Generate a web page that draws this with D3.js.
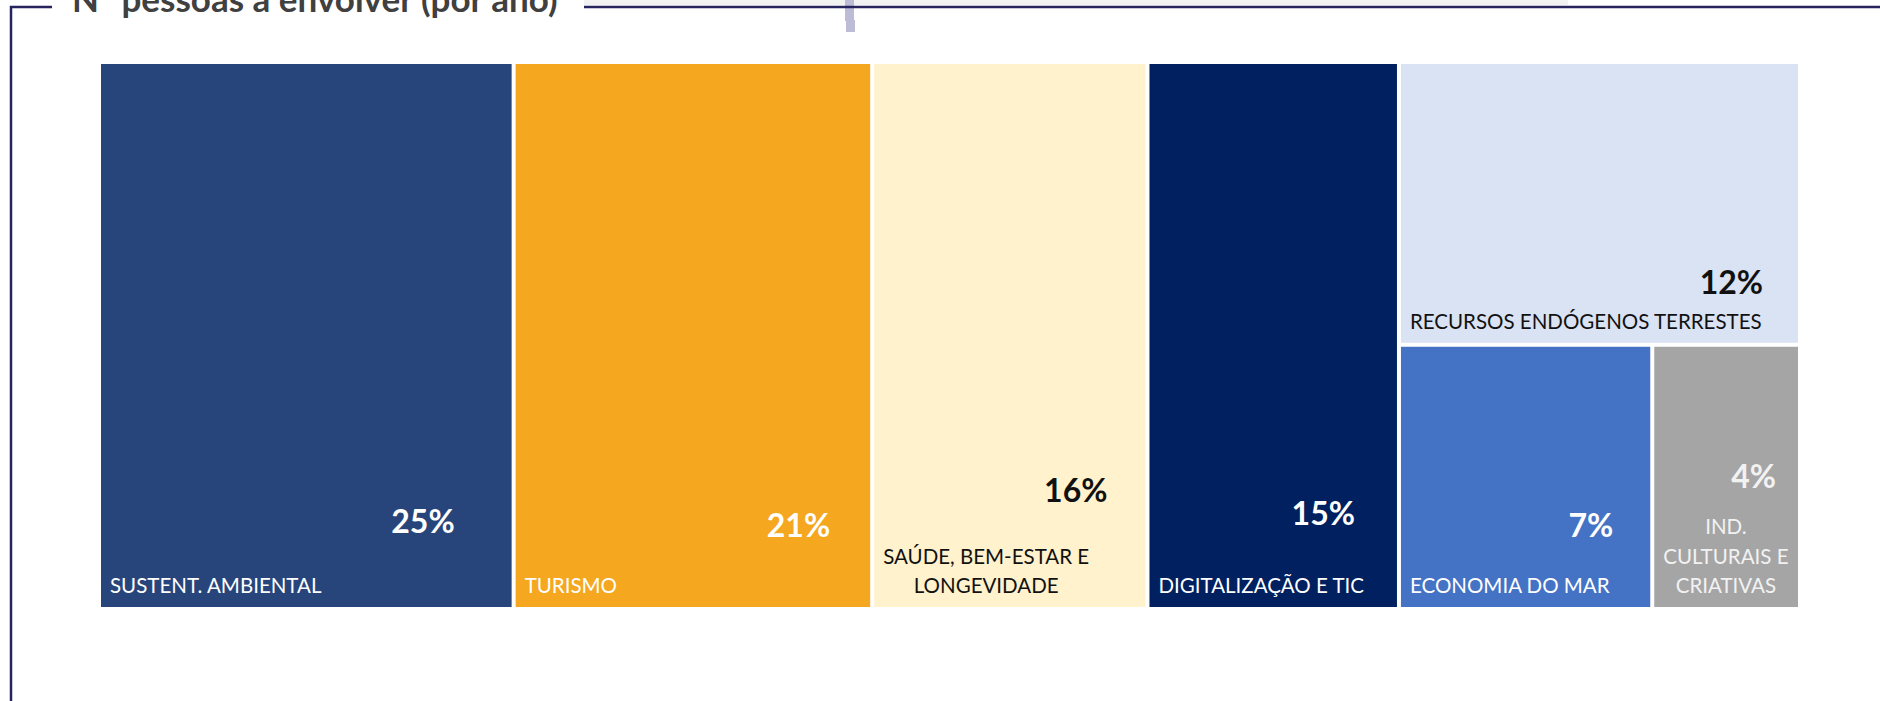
<!DOCTYPE html>
<html>
<head>
<meta charset="utf-8">
<script src="https://cdn.jsdelivr.net/npm/d3@7"></script>
<style>
  body { margin: 0; background: #fff; }
  svg { display: block; }
</style>
</head>
<body>
<div id="chart"></div>
<script>

const FRAME_WIDTH = 1880;
const FRAME_HEIGHT = 701;

// data
const TITLE = "Nº pessoas a envolver (por ano)";
const categories = ["SUSTENT. AMBIENTAL", "TURISMO", "SAÚDE, BEM-ESTAR E LONGEVIDADE",
  "DIGITALIZAÇÃO E TIC", "RECURSOS ENDÓGENOS TERRESTES", "ECONOMIA DO MAR",
  "IND. CULTURAIS E CRIATIVAS"];
const shares = [24.4, 21.1, 16.2, 14.8, 12.2, 7.2, 4.2];   // area of each tile (estimated)
const pctLabels = [25, 21, 16, 15, 12, 7, 4];              // printed percentages
const colors = ["#27457A", "#F5A71F", "#FFF2CC", "#002060", "#DAE3F3", "#4472C4", "#A5A5A5"];
const textColors = ["#fff", "#fff", "#111", "#fff", "#111", "#fff", "#F2F2F2"];

// how the names wrap, and where the % label sits (offset from the tile's bottom-right)
const nameLines = [["SUSTENT. AMBIENTAL"], ["TURISMO"], ["SAÚDE, BEM-ESTAR E", "LONGEVIDADE"],
  ["DIGITALIZAÇÃO E TIC"], ["RECURSOS ENDÓGENOS TERRESTES"], ["ECONOMIA DO MAR"],
  ["IND.", "CULTURAIS E", "CRIATIVAS"]];
const pctOffset = [[57, 74], [40, 70], [38, 105], [42, 82], [35, 49], [37, 70], [22, 119]];

const LINE_COLOR = "#27235E";
const FONT = "Lato, 'Open Sans', sans-serif";

const svg = d3.select("#chart")
  .append("svg")
    .attr("width", FRAME_WIDTH)
    .attr("height", FRAME_HEIGHT);

// background bits at the top (strip + connector peeking in)
svg.append("rect").attr("x", 584).attr("y", 0).attr("width", 984).attr("height", 5).attr("fill", "#F2F2F2");
svg.append("rect").attr("x", 845).attr("y", 0).attr("width", 9).attr("height", 21).attr("fill", "#BDBCD6");
svg.append("rect").attr("x", 846).attr("y", 20).attr("width", 9).attr("height", 12).attr("fill", "#BDBCD6");

// frame
svg.append("path")
  .attr("d", "M11,701 L11,7 L52,7 M584,7 L1880,7")
  .attr("fill", "none")
  .attr("stroke", LINE_COLOR)
  .attr("stroke-width", 2.5);

svg.append("text")
  .attr("x", 72)
  .attr("y", 12)
  .attr("font-family", FONT)
  .attr("font-weight", "bold")
  .attr("font-size", 35)
  .attr("fill", "#404040")
  .text(TITLE);

// hierarchy: four columns, then a column split in two, whose bottom splits again
const leaf = (i) => ({ idx: i, value: shares[i] });
const tree = { children: [
  leaf(0), leaf(1), leaf(2), leaf(3),
  { children: [leaf(4), { children: [leaf(5), leaf(6)] }] }
]};

const root = d3.hierarchy(tree)
  .sum(d => d.children ? 0 : d.value);

d3.treemap()
  .tile(d3.treemapSliceDice)
  .size([1697, 543])
  .paddingInner(4)
  (root);

const g = svg.append("g").attr("transform", "translate(101,64)");

const cells = g.selectAll("g.cell")
  .data(root.leaves())
  .enter()
  .append("g")
    .attr("class", "cell");

cells.append("rect")
  .attr("x", d => d.x0)
  .attr("y", d => d.y0)
  .attr("width", d => d.x1 - d.x0)
  .attr("height", d => d.y1 - d.y0)
  .attr("fill", d => colors[d.data.idx]);

// category names, bottom-left, multi-line ones centred as a block
cells.each(function(d) {
  const i = d.data.idx;
  const lines = nameLines[i];
  const t = d3.select(this).append("text")
    .attr("font-family", FONT)
    .attr("font-size", 20.5)
    .attr("fill", textColors[i])
    .attr("text-anchor", lines.length > 1 ? "middle" : "start");
  lines.forEach((ln, k) => {
    t.append("tspan")
      .attr("y", d.y1 - 14 - (lines.length - 1 - k) * 29.5)
      .text(ln);
  });
  let maxW = 0;
  t.selectAll("tspan").each(function() { maxW = Math.max(maxW, this.getComputedTextLength()); });
  const x = lines.length > 1 ? d.x0 + 9 + maxW / 2 : d.x0 + 9;
  t.selectAll("tspan").attr("x", x);
});

cells.append("text")
  .attr("x", d => d.x1 - pctOffset[d.data.idx][0])
  .attr("y", d => d.y1 - pctOffset[d.data.idx][1])
  .attr("text-anchor", "end")
  .attr("font-family", FONT)
  .attr("font-weight", "bold")
  .attr("font-size", 32)
  .attr("fill", d => textColors[d.data.idx])
  .text(d => pctLabels[d.data.idx] + "%");

</script>
</body>
</html>
